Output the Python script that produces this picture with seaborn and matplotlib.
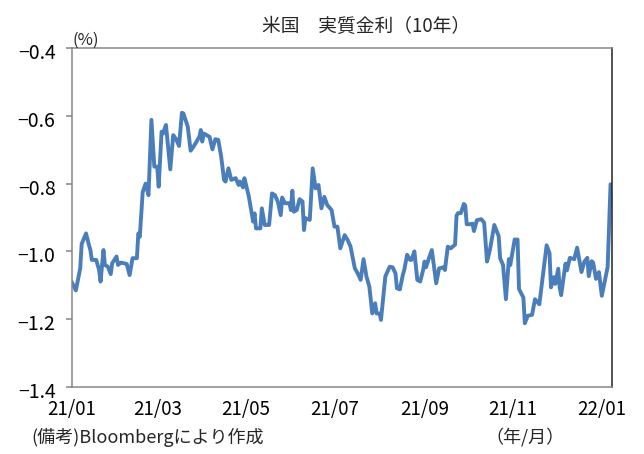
import matplotlib
matplotlib.use("Agg")
import matplotlib.pyplot as plt
import matplotlib.dates as mdates
import matplotlib.transforms as mtransforms
import seaborn as sns
import pandas as pd

start_date = "2021-01-01"
day_offsets = [0, 3, 6, 7, 10, 12, 13, 14, 17, 19, 20, 22, 23, 25, 27, 28, 31, 32, 34, 38,
               40, 42, 45, 46, 47, 49, 51, 53, 55, 57, 59, 60, 62, 63, 65, 68, 70, 72, 74, 76,
               77, 80, 82, 84, 88, 89, 90, 91, 95, 97, 99, 101, 103, 105, 106, 108, 110, 113, 115, 116,
               118, 119, 122, 124, 125, 126, 127, 130, 131, 133, 136, 138, 140, 142, 144, 145, 147, 150, 151, 152,
               153, 155, 157, 159, 160, 161, 164, 166, 168, 170, 172, 174, 176, 179, 181, 183, 185, 188, 190, 192,
               195, 197, 199, 201, 203, 205, 207, 209, 210, 212, 213, 216, 219, 221, 223, 224, 226, 228, 229, 231,
               233, 234, 236, 238, 240, 242, 243, 244, 246, 248, 251, 253, 256, 257, 259, 261, 264, 265, 266, 268,
               270, 271, 272, 274, 276, 277, 279, 282, 284, 286, 288, 291, 294, 295, 297, 299, 301, 302, 305, 307,
               308, 311, 312, 314, 317, 319, 322, 327, 329, 330, 332, 333, 335, 336, 337, 340, 341, 343, 346, 348,
               351, 353, 355, 356, 358, 359, 361, 363, 365, 369, 371]
real_yield = [-1.089, -1.115, -1.05, -0.978, -0.947, -0.981, -0.996, -1.025, -1.025, -1.055,
              -1.089, -0.996, -1.04, -1.045, -1.067, -1.035, -1.015, -1.04, -1.033, -1.037,
              -1.07, -1.02, -1.02, -0.947, -0.957, -0.825, -0.80, -0.834, -0.612, -0.75,
              -0.75, -0.809, -0.647, -0.652, -0.627, -0.758, -0.657, -0.669, -0.689, -0.591,
              -0.593, -0.632, -0.703, -0.691, -0.662, -0.642, -0.676, -0.652, -0.662, -0.699,
              -0.669, -0.671, -0.72, -0.789, -0.794, -0.755, -0.789, -0.784, -0.804, -0.794,
              -0.811, -0.784, -0.837, -0.888, -0.912, -0.888, -0.932, -0.932, -0.873, -0.922,
              -0.922, -0.829, -0.834, -0.853, -0.893, -0.841, -0.858, -0.858, -0.878, -0.821,
              -0.883, -0.878, -0.846, -0.853, -0.937, -0.902, -0.907, -0.755, -0.814, -0.804,
              -0.873, -0.839, -0.863, -0.878, -0.927, -0.927, -0.991, -0.952, -0.966, -0.985,
              -1.05, -1.065, -1.084, -1.023, -1.074, -1.104, -1.183, -1.153, -1.183, -1.183,
              -1.202, -1.074, -1.045, -1.047, -1.065, -1.109, -1.112, -1.07, -1.055, -1.01,
              -1.025, -1.025, -1.0, -1.084, -1.089, -1.055, -1.03, -1.047, -1.02, -0.996,
              -1.094, -1.05, -1.047, -1.055, -0.986, -0.991, -0.98, -0.895, -0.887, -0.887,
              -0.86, -0.865, -0.92, -0.92, -0.918, -0.94, -0.908, -0.905, -0.915, -1.03,
              -0.995, -0.922, -0.955, -1.02, -1.04, -1.141, -1.023, -1.04, -0.965, -0.965,
              -1.111, -1.136, -1.212, -1.19, -1.187, -1.141, -1.156, -0.982, -1.005, -1.106,
              -1.076, -1.096, -1.051, -1.106, -1.129, -1.036, -1.056, -1.019, -1.023, -0.989,
              -1.061, -1.03, -1.019, -1.073, -1.029, -1.033, -1.081, -1.061, -1.131, -1.046,
              -0.802]
y_ticks = [-1.4, -1.2, -1.0, -0.8, -0.6, -0.4]
x_tick_months = [1, 3, 5, 7, 9, 11]

title = "米国　実質金利（10年）"
unit = "(%)"
note = "(備考)Bloombergにより作成"
xunit = "（年/月）"

dates = pd.Timestamp(start_date) + pd.to_timedelta(day_offsets, unit="D")
df = pd.DataFrame({"date": dates, "value": real_yield})

sns.set_theme(style="white")
plt.rcParams["font.family"] = ["Noto Sans CJK JP", "DejaVu Sans"]
plt.rcParams["axes.unicode_minus"] = True

fig = plt.figure(figsize=(6.44, 4.54), dpi=100)
ax = fig.add_axes([71.5 / 644, 1 - 387 / 454, (612 - 71.5) / 644, (387 - 48) / 454])

sns.lineplot(data=df, x="date", y="value", ax=ax, color="#4a7ebb", linewidth=2.8,
             estimator=None)

ax.set_xlim(pd.Timestamp("2021-01-01"), pd.Timestamp("2022-01-08"))
ax.set_ylim(-1.4, -0.4)
ax.set_yticks(y_ticks)
ax.set_yticklabels([f"{v:.1f}".replace("-", "\u2212") for v in y_ticks])
ax.xaxis.set_major_locator(mdates.MonthLocator(bymonth=x_tick_months))
ax.xaxis.set_major_formatter(mdates.DateFormatter("%y/%m"))
ax.set_xlabel("")
ax.set_ylabel("")

ax.tick_params(axis="y", which="major", direction="out", length=4.5, width=1.1,
               color="#868686", labelsize=14, pad=7, left=True, labelcolor="black")
ax.tick_params(axis="x", which="major", length=0, labelsize=13.5, pad=9, labelcolor="black")

shift = mtransforms.ScaledTranslation(0, -3 / 100, fig.dpi_scale_trans)
for lbl in ax.get_yticklabels():
    lbl.set_transform(lbl.get_transform() + shift)

for side in ["left", "top", "bottom"]:
    ax.spines[side].set_color("#868686")
    ax.spines[side].set_linewidth(1.1)
ax.spines["right"].set_color("#222222")
ax.spines["right"].set_linewidth(1.1)
ax.grid(False)

fig.text(366 / 644, 1 - 26 / 454, title, ha="center", va="center", fontsize=13.5)
fig.text(72 / 644, 1 - 40 / 454, unit, ha="left", va="center", fontsize=12)
fig.text(31 / 644, 1 - 437 / 454, note, ha="left", va="center", fontsize=13)
fig.text(525 / 644, 1 - 437 / 454, xunit, ha="center", va="center", fontsize=13)

fig.savefig("out.png", dpi=100)
